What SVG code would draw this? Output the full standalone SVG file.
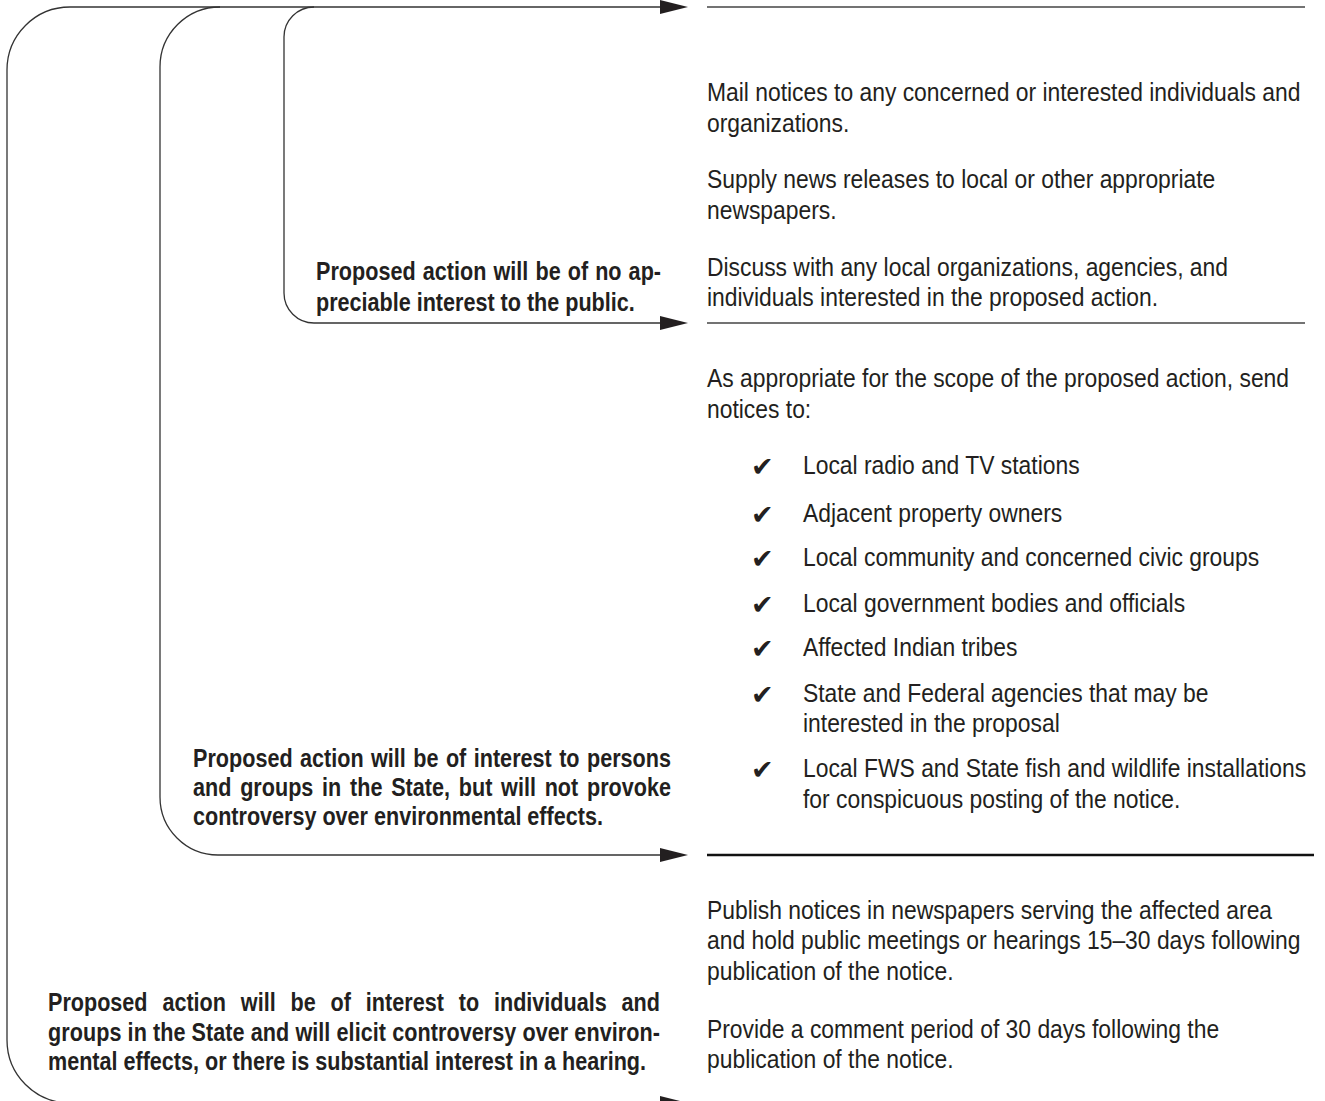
<svg xmlns="http://www.w3.org/2000/svg" width="1325" height="1101" viewBox="0 0 1325 1101">
<style>
.conn{fill:none;stroke:#333;stroke-width:1.3}
.rule{stroke:#444;stroke-width:1.3}
.rule2{stroke:#111;stroke-width:2.6}
.t{font-family:"Liberation Sans",Arial,sans-serif;font-size:26px;fill:#231f20}
.b{font-family:"Liberation Sans",Arial,sans-serif;font-size:26px;font-weight:bold;fill:#231f20}
.ck{font-family:"DejaVu Sans",sans-serif;font-size:27px;fill:#231f20}
</style>
<defs>
<marker id="arr" markerUnits="userSpaceOnUse" markerWidth="28" markerHeight="14" viewBox="0 0 28 14" refX="0" refY="7" orient="auto">
<polygon points="0,0 28,7 0,14" fill="#231f20"/>
</marker>
</defs>
<rect width="1325" height="1101" fill="#fff"/>
<g id="connectors">
<path class="conn" d="M 70 7 H 660" marker-end="url(#arr)"/>
<path class="conn" d="M 314 7 A 30 30 0 0 0 284 37 V 293 A 30 30 0 0 0 314 323 H 660" marker-end="url(#arr)"/>
<path class="conn" d="M 220 7 A 60 60 0 0 0 160 67 V 797 A 58 58 0 0 0 218 855 H 660" marker-end="url(#arr)"/>
<path class="conn" d="M 70 7 A 63 63 0 0 0 7 70 V 1040 A 63 63 0 0 0 70 1103 H 660" marker-end="url(#arr)"/>
</g>
<g id="rules">
<line class="rule" x1="707" y1="7" x2="1305" y2="7"/>
<line class="rule" x1="707" y1="323" x2="1305" y2="323"/>
<line class="rule2" x1="707" y1="855" x2="1314" y2="855"/>
</g>
<g id="node-no-interest">
<g transform="translate(316,0) scale(0.83,1)">
<text class="b" x="0" y="280" word-spacing="1.2" textLength="415.7" lengthAdjust="spacing">Proposed action will be of no ap-</text>
<text class="b" x="0" y="311">preciable interest to the public.</text>
</g>
</g>
<g id="node-state-interest">
<g transform="translate(193,0) scale(0.83,1)">
<text class="b" x="0" y="767" word-spacing="1.7" textLength="575.9" lengthAdjust="spacing">Proposed action will be of interest to persons</text>
<text class="b" x="0" y="796" word-spacing="3.3" textLength="575.9" lengthAdjust="spacing">and groups in the State, but will not provoke</text>
<text class="b" x="0" y="825">controversy over environmental effects.</text>
</g>
</g>
<g id="node-controversy">
<g transform="translate(48,0) scale(0.83,1)">
<text class="b" x="0" y="1011" word-spacing="10.7" textLength="737.3" lengthAdjust="spacing">Proposed action will be of interest to individuals and</text>
<text class="b" x="0" y="1041" textLength="737.3" lengthAdjust="spacing">groups in the State and will elicit controversy over environ-</text>
<text class="b" x="0" y="1070">mental effects, or there is substantial interest in a hearing.</text>
</g>
</g>
<g id="node-actions-1">
<g transform="translate(707,0) scale(0.88,1)">
<text class="t" x="0" y="101">Mail notices to any concerned or interested individuals and</text>
<text class="t" x="0" y="132">organizations.</text>
<text class="t" x="0" y="188">Supply news releases to local or other appropriate</text>
<text class="t" x="0" y="219">newspapers.</text>
<text class="t" x="0" y="276">Discuss with any local organizations, agencies, and</text>
<text class="t" x="0" y="306">individuals interested in the proposed action.</text>
</g>
</g>
<g id="node-actions-2">
<g transform="translate(707,0) scale(0.88,1)">
<text class="t" x="0" y="387">As appropriate for the scope of the proposed action, send</text>
<text class="t" x="0" y="418">notices to:</text>
</g>
<g class="ck">
<text x="751" y="476">✔</text>
<text x="751" y="524">✔</text>
<text x="751" y="568">✔</text>
<text x="751" y="614">✔</text>
<text x="751" y="658">✔</text>
<text x="751" y="704">✔</text>
<text x="751" y="779">✔</text>
</g>
<g transform="translate(803,0) scale(0.88,1)">
<text class="t" x="0" y="474">Local radio and TV stations</text>
<text class="t" x="0" y="522">Adjacent property owners</text>
<text class="t" x="0" y="566">Local community and concerned civic groups</text>
<text class="t" x="0" y="612">Local government bodies and officials</text>
<text class="t" x="0" y="656">Affected Indian tribes</text>
<text class="t" x="0" y="702">State and Federal agencies that may be</text>
<text class="t" x="0" y="732">interested in the proposal</text>
<text class="t" x="0" y="777">Local FWS and State fish and wildlife installations</text>
<text class="t" x="0" y="808">for conspicuous posting of the notice.</text>
</g>
</g>
<g id="node-actions-3">
<g transform="translate(707,0) scale(0.88,1)">
<text class="t" x="0" y="919">Publish notices in newspapers serving the affected area</text>
<text class="t" x="0" y="949">and hold public meetings or hearings 15–30 days following</text>
<text class="t" x="0" y="980">publication of the notice.</text>
<text class="t" x="0" y="1038">Provide a comment period of 30 days following the</text>
<text class="t" x="0" y="1068">publication of the notice.</text>
</g>
</g>
</svg>
